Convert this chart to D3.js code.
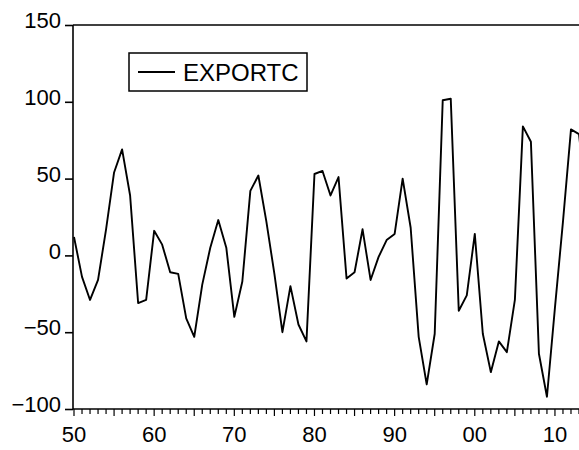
<!DOCTYPE html>
<html>
<head>
<meta charset="utf-8">
<script src="https://cdn.jsdelivr.net/npm/d3@7.9.0/dist/d3.min.js"></script>
<style>
  body { margin: 0; background: #fff; overflow: hidden; }
  svg { display: block; font-family: "Liberation Sans", Arial, sans-serif; }
</style>
</head>
<body>
<svg id="chart" width="579" height="450"></svg>
<script>
// annual values, 1950 onward
const firstYear = 1950;
const exportc = [
  12, -14, -29, -16, 17, 54, 69, 39, -31, -29,
  16, 7, -11, -12, -41, -53, -19, 5, 23, 5,
  -40, -17, 42, 52, 22, -12, -50, -20, -45, -56,
  53, 55, 39, 51, -15, -11, 17, -16, -1, 10,
  14, 50, 18, -53, -84, -51, 101, 102, -36, -26,
  14, -51, -76, -56, -63, -29, 84, 74, -64, -92,
  -34, 22, 82, 79, 30
];
const yTicks = [-100, -50, 0, 50, 100, 150];
const xTickYears = [1950, 1960, 1970, 1980, 1990, 2000, 2010];
const seriesName = 'EXPORTC';

const data = exportc.map((v, i) => ({ year: firstYear + i, value: v }));

const svg = d3.select('#chart');
const plotLeft = 73, plotRight = 579, plotTop = 25, plotBottom = 409;
const fontSize = 22;

const x = d3.scaleLinear().domain([1950, 2013]).range([74, 579]);
const y = d3.scaleLinear().domain([-100, 150]).range([plotBottom, plotTop]);

// frame: left axis, top border, bottom axis
svg.append('line').attr('x1', plotLeft).attr('x2', plotLeft).attr('y1', plotTop).attr('y2', plotBottom)
  .attr('stroke', '#000').attr('stroke-width', 1.6);
svg.append('line').attr('x1', plotLeft).attr('x2', plotRight).attr('y1', plotTop).attr('y2', plotTop)
  .attr('stroke', '#000').attr('stroke-width', 1.6);
svg.append('line').attr('x1', plotLeft).attr('x2', plotRight).attr('y1', plotBottom).attr('y2', plotBottom)
  .attr('stroke', '#000').attr('stroke-width', 1.6);

// y axis
const yAxis = d3.axisLeft(y).tickValues(yTicks).tickSize(8).tickPadding(4);
const gy = svg.append('g').attr('transform', `translate(${plotLeft},0)`).call(yAxis);
gy.select('.domain').remove();
gy.selectAll('line').attr('stroke', '#000').attr('stroke-width', 1.6);
gy.selectAll('text').attr('font-size', fontSize).attr('fill', '#000')
  .attr('dy', '0.12em')
  .attr('font-family', '"Liberation Sans", Arial, sans-serif');

// x axis: yearly minor ticks
const years = d3.range(1950, 2014);
const gx = svg.append('g').attr('transform', `translate(0,${plotBottom})`);
gx.selectAll('line.tick')
  .data(years)
  .join('line')
  .attr('class', 'tick')
  .attr('x1', d => x(d)).attr('x2', d => x(d))
  .attr('y1', 0).attr('y2', d => (d % 5 === 0 ? 7 : 5))
  .attr('stroke', '#000').attr('stroke-width', 1.2);
gx.selectAll('text')
  .data(xTickYears)
  .join('text')
  .attr('x', d => x(d))
  .attr('y', 33)
  .attr('text-anchor', 'middle')
  .attr('font-size', fontSize)
  .attr('fill', '#000')
  .text(d => String(d % 100).padStart(2, '0'));

// series line
const line = d3.line().x(d => x(d.year)).y(d => y(d.value));
svg.append('path')
  .datum(data)
  .attr('d', line)
  .attr('fill', 'none')
  .attr('stroke', '#000')
  .attr('stroke-width', 1.9)
  .attr('stroke-linejoin', 'round');

// legend
const lg = svg.append('g').attr('transform', 'translate(129,53)');
lg.append('rect').attr('x', 0).attr('y', 0).attr('width', 178).attr('height', 38)
  .attr('fill', '#fff').attr('stroke', '#000').attr('stroke-width', 1.5);
lg.append('line').attr('x1', 9).attr('x2', 46).attr('y1', 19).attr('y2', 19)
  .attr('stroke', '#000').attr('stroke-width', 1.9);
lg.append('text').attr('x', 54).attr('y', 28).attr('font-size', 24).attr('fill', '#000')
  .text(seriesName);
</script>
</body>
</html>
